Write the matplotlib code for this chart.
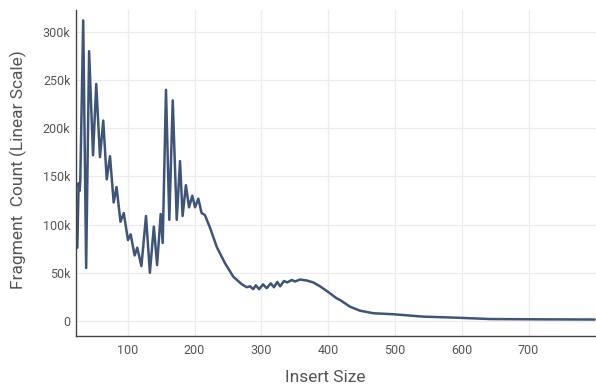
import matplotlib
matplotlib.use("Agg")
import matplotlib.pyplot as plt
from matplotlib.ticker import FuncFormatter

insert_size = [24.6, 26.5, 28.0, 29.0, 33.4, 37.8, 42.2, 48.1, 52.9, 58.5, 63.4, 68.6,
               73.5, 79.0, 83.3, 89.2, 94.1, 100.4, 104.4, 110.4, 114.3, 120.5, 127.4,
               133.2, 139.1, 144.0, 149.4, 152.4, 157.3, 162.3, 167.4, 173.4, 178.3,
               182.2, 187.1, 191.8, 196.7, 200.8, 205.7, 210.6, 215.5, 223.4, 233.2,
               245.6, 258.0, 270.3, 278.1, 283.0, 287.9, 291.8, 296.7, 302.6, 308.1,
               314.1, 319.0, 323.9, 328.1, 333.9, 338.8, 345.5, 350.5, 357.9, 368.0,
               377.8, 387.8, 400.3, 412.8, 417.8, 432.8, 447.5, 467.7, 497.4, 542.4,
               592.4, 642.3, 716.7, 799.0]
fragment_count = [76e3, 143e3, 135e3, 145e3, 312e3, 55e3, 280e3, 172e3, 246e3, 170e3,
                  208e3, 147e3, 171e3, 123e3, 139e3, 103e3, 112e3, 84e3, 90e3, 68e3, 76e3,
                  57e3, 109e3, 50e3, 98e3, 58e3, 111e3, 81e3, 240e3, 105e3, 229e3, 105e3,
                  166e3, 109e3, 141e3, 118e3, 130e3, 118e3, 127e3, 112e3, 110e3, 96.5e3,
                  77e3, 60e3, 46e3, 38.4e3, 35e3, 36e3, 33e3, 37e3, 33e3, 38e3, 34e3, 39e3,
                  35e3, 40.5e3, 36e3, 41.5e3, 40e3, 42.5e3, 41e3, 43e3, 42e3, 40e3, 36e3,
                  30e3, 23.5e3, 21.8e3, 14.8e3, 10.7e3, 8e3, 7e3, 4.5e3, 3.4e3, 2e3, 1.7e3,
                  1.5e3]
x_ticks = [100, 200, 300, 400, 500, 600, 700]
y_ticks = [0, 50e3, 100e3, 150e3, 200e3, 250e3, 300e3]

plt.rcParams['font.family'] = ['Roboto', 'DejaVu Sans']

fig = plt.figure(figsize=(5.96, 3.85), dpi=100)
ax = fig.add_axes([76/596, 49/385, 520/596, 326/385])

ax.plot(insert_size, fragment_count, color='#3e5579', lw=1.8,
        solid_joinstyle='round', solid_capstyle='round')

ax.set_xlim(22.6, 801)
ax.set_ylim(-15.6e3, 322.8e3)
ax.set_xticks(x_ticks)
ax.set_yticks(y_ticks)
ax.yaxis.set_major_formatter(FuncFormatter(lambda v, p: '0' if v == 0 else f'{int(v/1000)}k'))
ax.grid(True, color='#ececec', lw=0.9)
ax.set_axisbelow(True)
for s in ['top', 'right']:
    ax.spines[s].set_visible(False)
for s in ['left', 'bottom']:
    ax.spines[s].set_color('#444444')
    ax.spines[s].set_linewidth(1.0)
ax.tick_params(length=0, labelsize=9, colors='#555555')
ax.tick_params(axis='y', pad=4)
ax.tick_params(axis='x', pad=6)

ax.set_xlabel('Insert Size', fontsize=12.5, color='#555555')
ax.xaxis.set_label_coords((325 - 76) / 520, (336 - 377) / 326)
ax.xaxis.label.set_va('center')
ax.set_ylabel('Fragment  Count (Linear Scale)', fontsize=12.5, color='#555555')
ax.yaxis.set_label_coords((18 - 76) / 520, (336 - 170) / 326)
ax.yaxis.label.set_va('center')

fig.savefig('out.png', dpi=100)
